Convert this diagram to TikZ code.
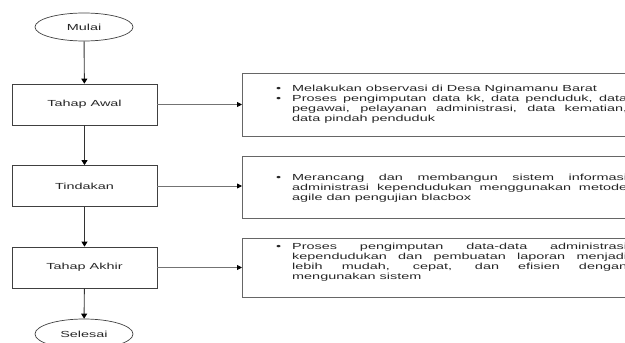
\documentclass[tikz,border=0pt]{standalone}
\usepackage{fontspec}
\setmainfont{Liberation Sans}[FakeStretch=1.64]
\usetikzlibrary{arrows.meta,shapes.geometric}
\newcommand\bul{\leavevmode\llap{\textbullet\hspace{11pt}}}
\begin{document}
\begin{tikzpicture}[x=1pt,y=-1pt,
  every node/.style={font=\fontsize{8.8pt}{10pt}\selectfont, text=black!85},
  term/.style={draw=black!75, ellipse, minimum width=98pt, minimum height=28pt, inner sep=0pt, line width=0.7pt},
  stepbox/.style={draw=black!75, rectangle, minimum width=145pt, minimum height=41pt, inner sep=0pt, line width=0.7pt},
  infobox/.style={draw=black!60, rectangle, anchor=west, minimum width=400pt, inner sep=0pt, line width=0.9pt},
  infotext/.style={anchor=north west, inner sep=0pt, text width=335pt, align=justify,
    execute at begin node={\tolerance=10000\hbadness=10000\hyphenpenalty=10000\exhyphenpenalty=10000}},
  flow/.style={draw=black!80, line width=0.9pt, -{Triangle[length=5pt,width=6pt,color=black]}},
  link/.style={draw=black!55, line width=0.8pt, -{Triangle[length=5pt,width=5pt,color=black]}}
]
\useasboundingbox (0,0) rectangle (625,343);
\node[term] (mulai) at (84,27) {Mulai};
\node[stepbox] (awal) at (84.5,104.5) {Tahap Awal};
\node[stepbox] (tindakan) at (84.5,186) {Tindakan};
\node[stepbox] (akhir) at (84.5,267.5) {Tahap Akhir};
\node[term, minimum height=30pt] (selesai) at (84,334) {Selesai};

\node[infobox, minimum height=63pt] (rb1) at (242,104.5) {};
\node[infobox, minimum height=62pt] (rb2) at (242,187) {};
\node[infobox, minimum height=59pt] (rb3) at (242,267.5) {};

\node[infotext] (t1) at (292,85) {\bul Melakukan observasi di Desa Nginamanu Barat\par
\bul Proses pengimputan data kk, data penduduk, data\linebreak pegawai, pelayanan administrasi, data kematian,\linebreak data pindah penduduk};
\node[infotext] (t2) at (292,173.5) {\bul Merancang dan membangun sistem informasi\linebreak administrasi kependudukan menggunakan metode\linebreak agile dan pengujian blacbox};
\node[infotext] (t3) at (292,242.5) {\bul Proses pengimputan data-data administrasi\linebreak kependudukan dan pembuatan laporan menjadi\linebreak lebih mudah, cepat, dan efisien dengan\linebreak mengunakan sistem};

\draw[flow] (mulai) -- (awal);
\draw[flow] (awal) -- (tindakan);
\draw[flow] (tindakan) -- (akhir);
\draw[flow] (akhir) -- (selesai);

\draw[link] (awal.east) -- (awal.east -| rb1.west);
\draw[link] (tindakan.east) -- (tindakan.east -| rb2.west);
\draw[link] (akhir.east) -- (akhir.east -| rb3.west);
\end{tikzpicture}
\end{document}
